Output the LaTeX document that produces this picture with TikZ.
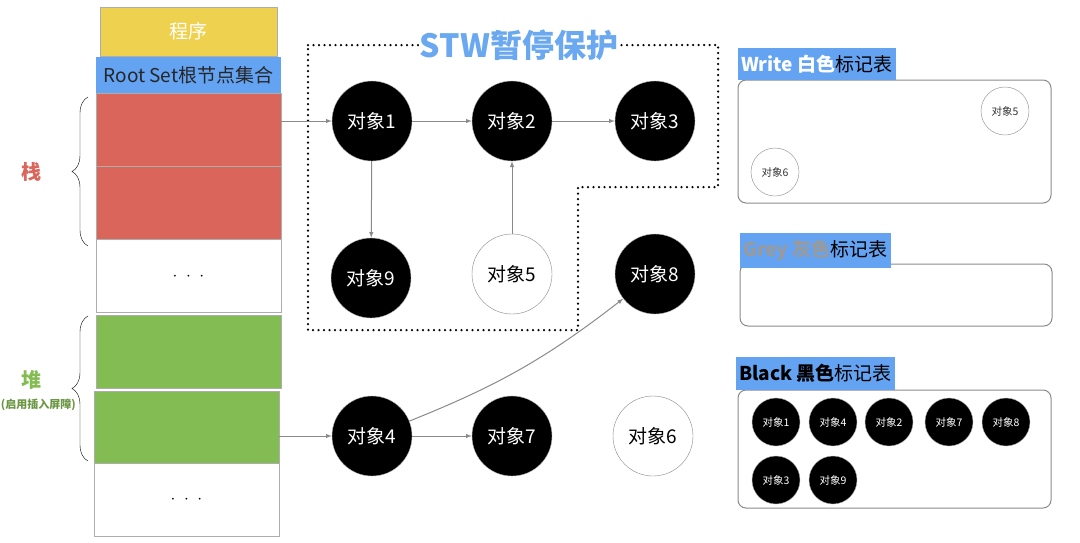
\documentclass[tikz,border=0pt]{standalone}
\usepackage{fontspec}
\newfontfamily\cjk{Noto Sans CJK SC}
\usetikzlibrary{positioning,arrows,decorations.pathreplacing}
\definecolor{progyellow}{HTML}{EFD150}
\definecolor{rootblue}{HTML}{64A3F2}
\definecolor{stwblue}{HTML}{6AA8F0}
\definecolor{stackred}{HTML}{DA655A}
\definecolor{heapgreen}{HTML}{84BC54}
\definecolor{linegrey}{HTML}{8A8A8A}
\definecolor{greytext}{HTML}{9A9A9A}

\begin{document}
\begin{tikzpicture}[x=1pt, y=-1pt, font=\cjk,
    cell/.style={draw=linegrey!70, line width=1pt, anchor=north west, minimum width=185pt, minimum height=73pt, inner sep=0pt, outer sep=0pt},
    obj/.style={circle, fill=black, draw=gray!60, minimum size=80pt, inner sep=0pt, text=white, font=\cjk\fontsize{19}{19}\selectfont},
    wobj/.style={obj, fill=white, draw=linegrey, text=black},
    sobj/.style={circle, fill=black, draw=gray!60, minimum size=48pt, inner sep=0pt, text=white, font=\cjk\fontsize{10.5}{10.5}\selectfont},
    swobj/.style={sobj, fill=white, draw=linegrey, text=black!80},
    table/.style={draw=linegrey, line width=1pt, rounded corners=8pt},
    head/.style={fill=rootblue, anchor=south west, inner xsep=3pt, inner ysep=7pt, font=\cjk\fontsize{19}{19}\selectfont},
    arr/.style={-latex, draw=linegrey, line width=1pt}]
  \useasboundingbox (0,0) rectangle (1080,542);

  % program and root set
  \node[cell, fill=progyellow, minimum width=177pt, minimum height=49pt, text=white, font=\cjk\fontsize{19}{19}\selectfont] (prog) at (100,7) {程序};
  \node[cell, draw=none, fill=rootblue, minimum height=36pt, font=\cjk\fontsize{19}{19}\selectfont, text=black!85] (root) at (96,57) {Root Set根节点集合};

  % stack and heap cells
  \node[cell, fill=stackred] (s1) at (96,93) {};
  \node[cell, fill=stackred] (s2) at (96,166) {};
  \node[cell, fill=white] (s3) at (96,239) {\raisebox{-10pt}{\fontsize{18}{18}\selectfont$\cdot\;\cdot\;\cdot$}};
  \node[cell, fill=heapgreen] (h1) at (96,315) {};
  \node[cell, fill=heapgreen] (h2) at (94,391) {};
  \node[cell, fill=white] (h3) at (94,463) {\raisebox{-8pt}{\fontsize{18}{18}\selectfont$\cdot\;\cdot\;\cdot$}};

  % braces
  \draw[decorate, decoration={brace, amplitude=16pt}] (88,246) -- (88,97);
  \draw[decorate, decoration={brace, amplitude=16pt}] (88,461) -- (88,316);
  \node[text=stackred, font=\cjk\bfseries\fontsize{20}{20}\selectfont] (stack) at (31,172) {栈};
  \node[text=heapgreen, font=\cjk\bfseries\fontsize{20}{20}\selectfont] (heap) at (31,380) {堆};
  \node[text=heapgreen!80!black, font=\cjk\bfseries\fontsize{11}{11}\selectfont, anchor=east, inner sep=0pt] (barrier) at (76,405) {(启用插入屏障)};

  % STW area
  \draw[dash pattern=on 0pt off 5.5pt, line cap=round, line width=2.5pt] (308,45) -- (718,45) -- (718,187) -- (578,187) -- (578,330) -- (308,330) -- cycle;
  \node[fill=white, text=stwblue, inner sep=1pt, font=\cjk\bfseries\fontsize{32}{32}\selectfont] (stw) at (519,45) {STW暂停保护};

  % objects
  \node[obj] (ob1) at (372,121) {对象1};
  \node[obj] (ob2) at (512,121) {对象2};
  \node[obj] (ob3) at (655,121) {对象3};
  \node[obj] (ob9) at (371,278) {对象9};
  \node[wobj] (ob5) at (512,274) {对象5};
  \node[obj] (ob8) at (655,274) {对象8};
  \node[obj] (ob4) at (372,436) {对象4};
  \node[obj] (ob7) at (512,436) {对象7};
  \node[wobj] (ob6) at (653,436) {对象6};

  \draw[arr] (s1.east |- ob1) -- (ob1);
  \draw[arr] (ob1) -- (ob2);
  \draw[arr] (ob2) -- (ob3);
  \draw[arr] (ob1) -- (ob9);
  \draw[arr] (ob5) -- (ob2);
  \draw[arr] (h2.east |- ob4) -- (ob4);
  \draw[arr] (ob4) -- (ob7);
  \draw[arr] (ob4) to[bend right=8] (ob8);

  % white table
  \draw[table] (738,80) rectangle (1051,203);
  \node[head] (whead) at (738,80) {{\bfseries\color{white}Write 白色}标记表};
  \node[swobj] (w5) at (1005,111) {对象5};
  \node[swobj] (w6) at (775,172) {对象6};

  % grey table
  \draw[table] (740,264) rectangle (1052,326);
  \node[head] (ghead) at (740,268) {{\bfseries\color{greytext}Grey 灰色}标记表};

  % black table
  \draw[table] (738,390) rectangle (1051,508);
  \node[head] (bhead) at (736,390) {{\bfseries Black 黑色}标记表};
  \node[sobj] (b1) at (776,422) {对象1};
  \node[sobj] (b4) at (833,422) {对象4};
  \node[sobj] (b2) at (889,422) {对象2};
  \node[sobj] (b7) at (949,422) {对象7};
  \node[sobj] (b8) at (1006,422) {对象8};
  \node[sobj] (b3) at (776,480) {对象3};
  \node[sobj] (b9) at (833,480) {对象9};
\end{tikzpicture}
\end{document}
